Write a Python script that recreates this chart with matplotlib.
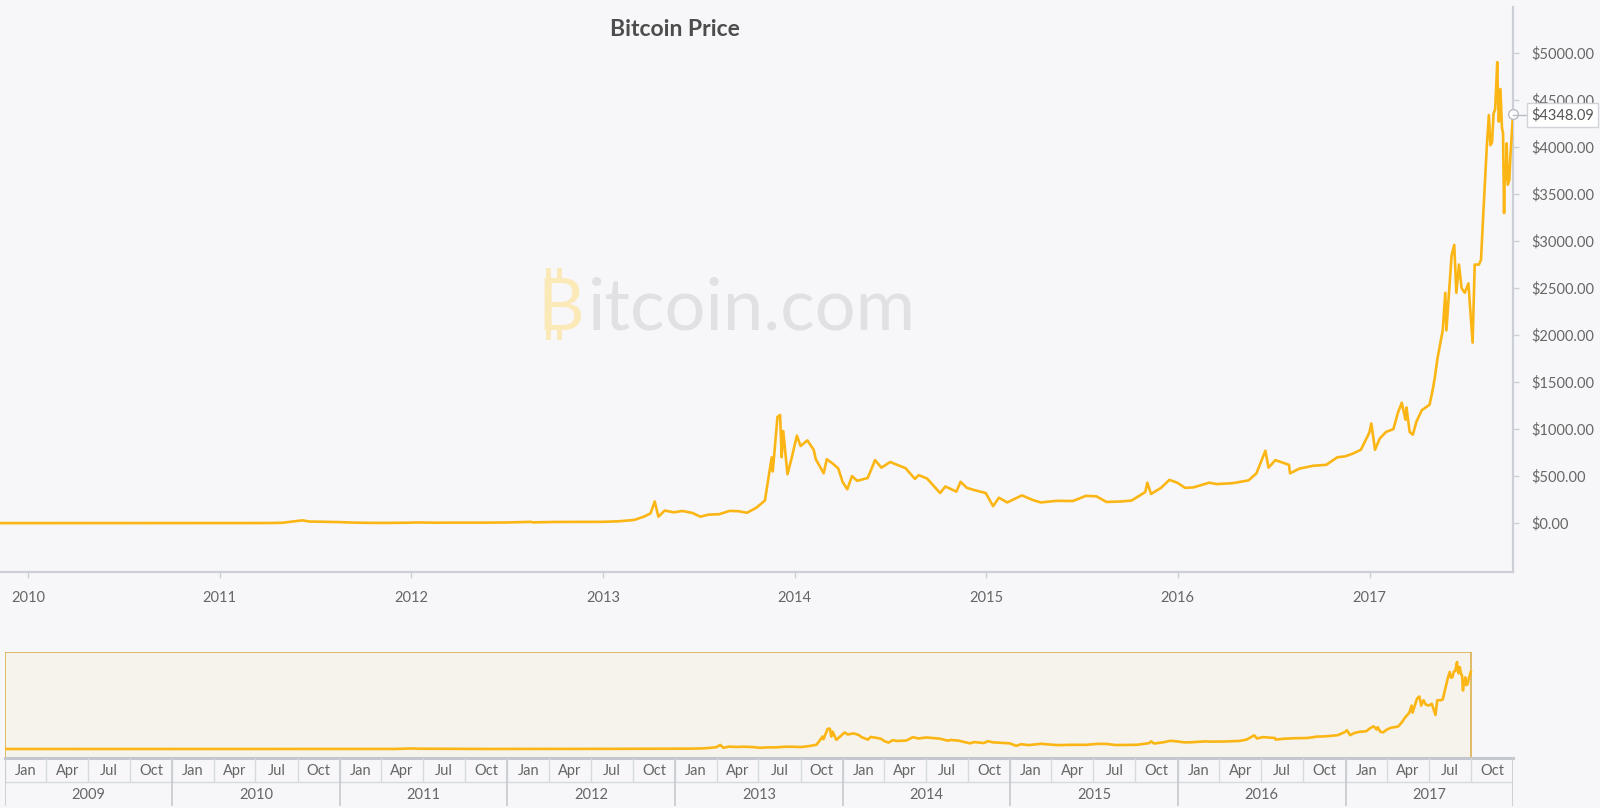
"""Bitcoin price chart with a navigator strip, in the style of the bitcoin.com price page."""

import matplotlib

matplotlib.use("Agg")
import matplotlib.dates as mdates
import matplotlib.pyplot as plt
import pandas as pd
from matplotlib.lines import Line2D
from matplotlib.patches import Rectangle

# ---- data (USD) ----
price_dates = [
    "2009-01-03", "2009-10-05", "2010-07-17", "2010-10-01", "2010-11-06", "2010-12-31",
    "2011-02-09", "2011-04-01", "2011-04-30", "2011-06-08", "2011-06-20", "2011-07-15",
    "2011-08-15", "2011-09-15", "2011-10-20", "2011-11-18", "2011-12-31", "2012-01-10",
    "2012-02-15", "2012-03-15", "2012-05-15", "2012-06-30", "2012-08-16", "2012-08-19",
    "2012-10-01", "2012-12-31", "2013-02-01", "2013-03-01", "2013-03-20", "2013-04-01",
    "2013-04-09", "2013-04-16", "2013-04-28", "2013-05-15", "2013-06-01", "2013-06-20",
    "2013-07-05", "2013-07-20", "2013-08-10", "2013-08-30", "2013-09-15", "2013-10-02",
    "2013-10-20", "2013-11-05", "2013-11-18", "2013-11-20", "2013-11-29", "2013-12-04",
    "2013-12-07", "2013-12-10", "2013-12-18", "2013-12-25", "2014-01-05", "2014-01-12",
    "2014-01-25", "2014-02-06", "2014-02-10", "2014-02-25", "2014-03-03", "2014-03-15",
    "2014-03-25", "2014-04-02", "2014-04-11", "2014-04-20", "2014-04-30", "2014-05-20",
    "2014-06-03", "2014-06-15", "2014-07-02", "2014-07-15", "2014-07-31", "2014-08-18",
    "2014-08-25", "2014-09-10", "2014-09-22", "2014-10-05", "2014-10-15", "2014-11-05",
    "2014-11-13", "2014-11-25", "2014-12-10", "2014-12-31", "2015-01-14", "2015-01-25",
    "2015-02-10", "2015-03-10", "2015-03-31", "2015-04-15", "2015-05-15", "2015-06-15",
    "2015-07-10", "2015-07-30", "2015-08-18", "2015-09-15", "2015-10-05", "2015-10-31",
    "2015-11-04", "2015-11-11", "2015-11-30", "2015-12-16", "2015-12-31", "2016-01-15",
    "2016-01-31", "2016-02-15", "2016-03-01", "2016-03-15", "2016-04-15", "2016-05-15",
    "2016-05-30", "2016-06-16", "2016-06-22", "2016-07-05", "2016-07-31", "2016-08-02",
    "2016-08-20", "2016-09-15", "2016-10-10", "2016-10-31", "2016-11-15", "2016-11-30",
    "2016-12-15", "2016-12-31", "2017-01-04", "2017-01-11", "2017-01-20", "2017-02-01",
    "2017-02-15", "2017-02-24", "2017-03-03", "2017-03-10", "2017-03-12", "2017-03-18",
    "2017-03-24", "2017-03-31", "2017-04-10", "2017-04-25", "2017-05-01", "2017-05-05",
    "2017-05-10", "2017-05-20", "2017-05-25", "2017-05-27", "2017-06-06", "2017-06-11",
    "2017-06-15", "2017-06-20", "2017-06-25", "2017-07-01", "2017-07-08", "2017-07-16",
    "2017-07-20", "2017-07-28", "2017-08-01", "2017-08-05", "2017-08-12", "2017-08-16",
    "2017-08-19", "2017-08-22", "2017-08-25", "2017-08-28", "2017-09-01", "2017-09-02",
    "2017-09-04", "2017-09-07", "2017-09-10", "2017-09-12", "2017-09-14", "2017-09-15",
    "2017-09-17", "2017-09-19", "2017-09-21", "2017-09-24", "2017-09-26", "2017-09-29",
    "2017-10-01",
]
price_values = [
    0, 0.001, 0.05, 0.06, 0.39, 0.30,
    1.0, 0.78, 3.5, 29.6, 17, 14,
    11, 5, 2.5, 2.2, 4.7, 7,
    4.4, 5, 5, 6.7, 13.5, 8,
    12.4, 13.5, 20, 34, 70, 104,
    230, 68, 134, 115, 129, 108,
    68, 90, 95, 130, 127, 110,
    165, 240, 700, 550, 1130, 1150,
    700, 980, 520, 670, 930, 820,
    880, 780, 680, 530, 680, 630,
    580, 440, 360, 500, 450, 480,
    670, 590, 650, 620, 585, 470,
    510, 475, 400, 320, 390, 335,
    440, 375, 350, 320, 180, 270,
    220, 295, 245, 220, 237, 235,
    290, 285, 225, 230, 240, 330,
    430, 310, 375, 460, 430, 375,
    380, 405, 430, 415, 425, 455,
    530, 770, 590, 670, 620, 530,
    580, 610, 620, 700, 710, 740,
    780, 960, 1060, 780, 900, 970,
    1000, 1180, 1280, 1100, 1230, 970,
    940, 1080, 1200, 1260, 1420, 1550,
    1750, 2050, 2450, 2050, 2850, 2960,
    2450, 2750, 2500, 2450, 2550, 1920,
    2750, 2750, 2800, 3250, 4000, 4340,
    4020, 4050, 4360, 4400, 4904, 4600,
    4270, 4617, 4200, 4150, 3298, 3700,
    3650, 4040, 3600, 3650, 3900, 4180,
    4348.09,
]

y_ticks = list(range(0, 5001, 500))
quarter_labels = ["Jan", "Apr", "Jul", "Oct"]
nav_years = list(range(2009, 2018))

# ---- styling ----
BG = "#f7f7f9"
LINE = "#fbb615"
AXIS = "#ccd0d6"
TEXT = "#666666"
W, H = 1600, 808


def fig_rect(x0, y0, x1, y1):
    """Pixel box (top-left origin) -> figure fraction rect."""
    return [x0 / W, 1 - y1 / H, (x1 - x0) / W, (y1 - y0) / H]


dates = pd.to_datetime(price_dates)

fig = plt.figure(figsize=(W / 100, H / 100), dpi=100, facecolor=BG)
plt.rcParams["font.family"] = ["Lato", "DejaVu Sans"]

# ---- main chart ----
ax = fig.add_axes(fig_rect(0, 7, 1513, 572))
ax.set_facecolor(BG)
ax.plot(dates, price_values, color=LINE, lw=1.9, zorder=3)
ax.set_xlim(pd.Timestamp("2009-11-08"), dates[-1])
ax.set_ylim(-520, 5490)

for side in ("top", "left"):
    ax.spines[side].set_visible(False)
for side in ("bottom", "right"):
    ax.spines[side].set_color(AXIS)
    ax.spines[side].set_linewidth(1.6)

ax.yaxis.tick_right()
ax.set_yticks(y_ticks)
ax.set_yticklabels([f"${v:.2f}" for v in y_ticks])
ax.tick_params(axis="y", direction="out", length=4, width=1, color=AXIS,
               labelsize=10.5, labelcolor=TEXT, pad=9)
ax.xaxis.set_major_locator(mdates.YearLocator())
ax.xaxis.set_major_formatter(mdates.DateFormatter("%Y"))
ax.tick_params(axis="x", direction="out", length=4, width=1, color=AXIS,
               labelsize=10.5, labelcolor=TEXT, pad=10)

ax.set_title("Bitcoin Price", fontsize=16.5, fontweight="bold", color="#4d4d4d",
             x=675 / 1513, y=1.0, pad=-21)

# last value marker + label box
ax.plot(dates[-1], price_values[-1], "o", ms=7, mfc="white", mec="#b8bcc2",
        mew=1, clip_on=False, zorder=6)
fig.add_artist(Line2D([1513 / W, 1527 / W], [1 - 115 / H] * 2, color="#b8bcc2", lw=1))
fig.text(1531 / W, 1 - 115 / H, f"${price_values[-1]:.2f}", fontsize=10.5, color="#555555",
         va="center", ha="left",
         bbox=dict(boxstyle="square,pad=0.3", fc="white", ec="#d0d3d8", lw=1))

# watermark
fig.text(537 / W, 1 - 330 / H, "B", fontsize=52, color="#fbe9b8", va="baseline", ha="left")
for xp in (548, 559):
    fig.add_artist(Line2D([xp / W] * 2, [1 - 270 / H, 1 - 279 / H], color="#fbe9b8", lw=3.5))
    fig.add_artist(Line2D([xp / W] * 2, [1 - 328 / H, 1 - 337 / H], color="#fbe9b8", lw=3.5))
fig.text(588 / W, 1 - 330 / H, "itcoin.com", fontsize=52, color="#e1e1e3",
         va="baseline", ha="left")

# ---- navigator ----
nav_start, nav_end = pd.Timestamp("2009-01-01"), pd.Timestamp("2018-01-01")
nav = fig.add_axes(fig_rect(5, 652, 1513, 758))
nav.set_xlim(nav_start, nav_end)
nav.set_ylim(-507, 5468)
nav.axis("off")
nav.add_patch(Rectangle((mdates.date2num(nav_start), -507),
                        mdates.date2num(dates[-1]) - mdates.date2num(nav_start), 5975,
                        fc="#f6f3ec", ec="#dcb04f", lw=1.2, zorder=1))
nav.plot(dates, price_values, color=LINE, lw=1.9, zorder=2)

# ---- navigator date grid ----
grid = fig.add_axes(fig_rect(5, 758, 1513, 806))
grid.set_xlim(nav_start, nav_end)
grid.set_ylim(0, 2.1)
grid.axis("off")
grid.set_facecolor(BG)

grid.axhline(2.1, color="#c4c8ce", lw=2.2, clip_on=False)
grid.axhline(1.05, color="#d6d9dd", lw=1)
for yr in nav_years:
    for qi, q in enumerate(quarter_labels):
        start = pd.Timestamp(year=yr, month=1 + 3 * qi, day=1)
        end = start + pd.DateOffset(months=3)
        mid = start + (end - start) / 2
        grid.vlines(start, 1.05, 2.1, color="#d6d9dd", lw=1)
        grid.text(mid, 1.55, q, ha="center", va="center", fontsize=10.5, color=TEXT)
    ys = pd.Timestamp(year=yr, month=1, day=1)
    ye = pd.Timestamp(year=yr + 1, month=1, day=1)
    grid.vlines(ys, 0, 2.1, color="#c9cdd2", lw=1.3)
    grid.text(ys + (ye - ys) / 2, 0.5, str(yr), ha="center", va="center",
              fontsize=10.5, color=TEXT)
grid.vlines(nav_end, 0, 2.1, color="#c9cdd2", lw=1.3)

fig.savefig("out.png", dpi=100, facecolor=BG)
